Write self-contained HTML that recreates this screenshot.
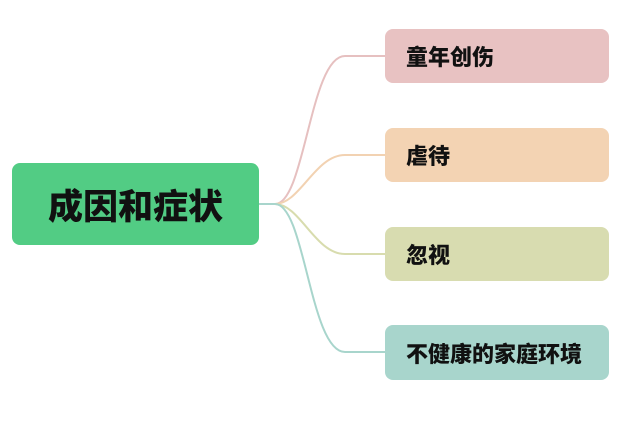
<!DOCTYPE html>
<html><head><meta charset="utf-8"><style>
body{margin:0;background:#fff;width:636px;height:421px;overflow:hidden;font-family:"Liberation Sans","Noto Sans CJK SC",sans-serif;}
.n{position:absolute;border-radius:8px;font-weight:900;color:#111;display:flex;align-items:center;}
.r{width:224px;height:54px;font-size:22px;padding-left:21px;box-sizing:border-box;}
</style></head><body>
<svg width="636" height="421" style="position:absolute;left:0;top:0" fill="none" stroke-width="2">
<path d="M259 204 H275 C305 204 310 56 345 56 H385" stroke="#e6c0c0"/>
<path d="M275 204 C300 204 315 155 345 155 H385" stroke="#f2d2b2"/>
<path d="M275 204 C300 204 315 254 345 254 H385" stroke="#d8dcae"/>
<path d="M259 204 H275 C305 204 310 352 345 352 H385" stroke="#a8d5cc"/>
</svg>
<div class="n" style="left:12px;top:163px;width:247px;height:82px;background:#52cc84;justify-content:center;font-size:35px;">成因和症状</div>
<div class="n r" style="left:385px;top:29px;background:#e8c2c2;">童年创伤</div>
<div class="n r" style="left:385px;top:128px;background:#f3d3b3;">虐待</div>
<div class="n r" style="left:385px;top:227px;background:#d8dcb0;">忽视</div>
<div class="n r" style="left:385px;top:325px;height:55px;background:#a8d5cc;">不健康的家庭环境</div>
</body></html>
